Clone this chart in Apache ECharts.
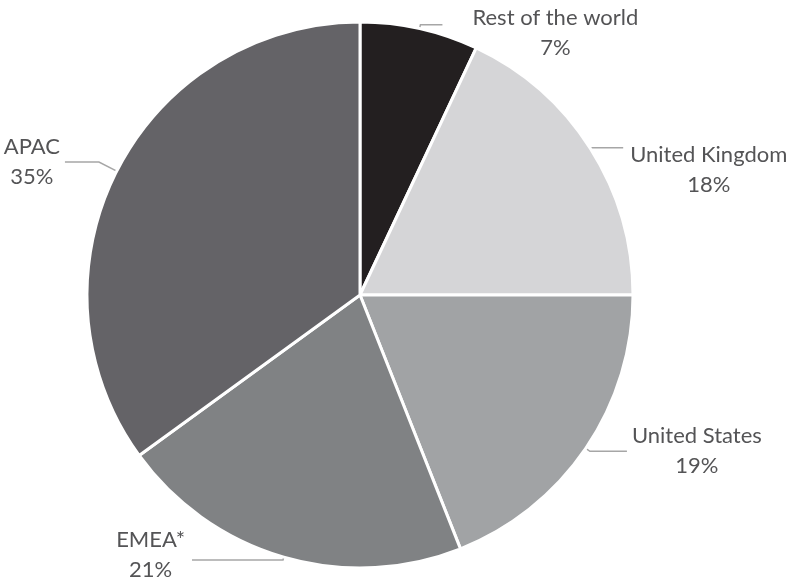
<!DOCTYPE html>
<html>
<head>
<meta charset="utf-8">
<script src="https://cdn.jsdelivr.net/npm/echarts@6/dist/echarts.min.js"></script>
<style>html,body{margin:0;padding:0;background:#fff}#c{width:792px;height:582px}</style>
</head>
<body>
<div id="c"></div>
<script>
const categories = ['Rest of the world', 'United Kingdom', 'United States', 'EMEA*', 'APAC'];
const values = [7, 18, 19, 21, 35];
const colors = ['#231f20', '#d5d5d7', '#a1a3a5', '#808284', '#646367'];
// per-slice label line tuning: [length, length2, distanceToLabelLine, dy]
const lineTune = [[4, 22, 30, 8], [2, 31, 7, 22], [5, 37, 5, 0], [3, 91, 7, -5], [20, 34, 5, 0]];

const data = categories.map((name, i) => ({
  name: name,
  value: values[i],
  itemStyle: { color: colors[i] },
  labelLine: { length: lineTune[i][0], length2: lineTune[i][1] },
  label: { distanceToLabelLine: lineTune[i][2] }
}));

const chart = echarts.init(document.getElementById('c'), null, { renderer: 'canvas' });
chart.setOption({
  animation: false,
  backgroundColor: '#ffffff',
  series: [{
    type: 'pie',
    center: [360, 295],
    radius: 273,
    startAngle: 90,
    clockwise: true,
    avoidLabelOverlap: false,
    itemStyle: { borderColor: '#ffffff', borderWidth: 3 },
    label: {
      show: true,
      position: 'outside',
      fontFamily: 'Lato',
      fontSize: 22,
      color: '#545456',
      lineHeight: 30,
      formatter: p => '{n|' + p.name + '}\n{n|' + p.value + '%}',
      rich: { n: { align: 'center', fontFamily: 'Lato', fontSize: 22, color: '#545456', lineHeight: 30 } }
    },
    labelLine: { show: true, lineStyle: { color: '#a6a6a6', width: 1.5 } },
    labelLayout: p => ({ dy: lineTune[p.dataIndex][3] }),
    data: data
  }]
});
</script>
</body>
</html>
